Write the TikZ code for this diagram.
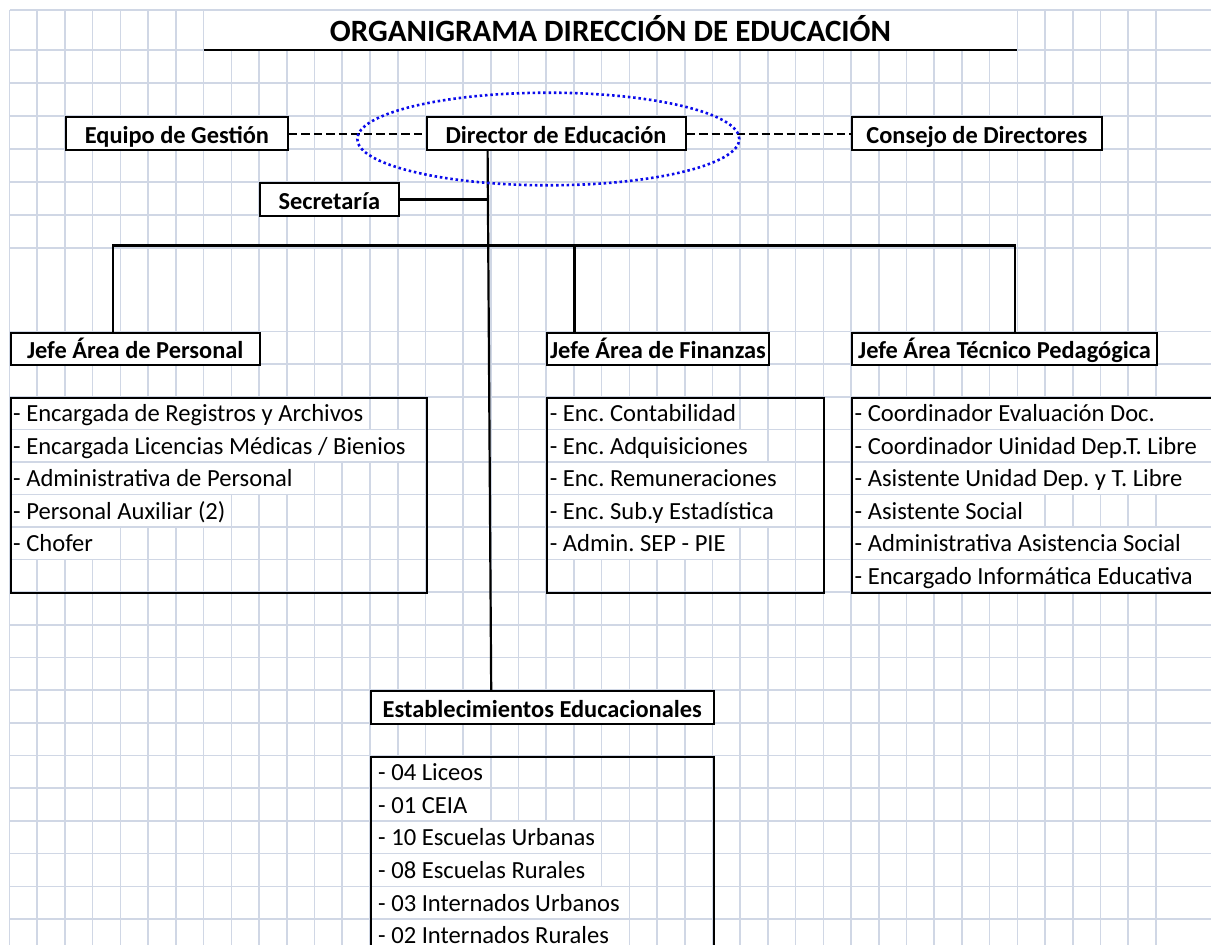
\documentclass[tikz,border=0pt]{standalone}
\usepackage{fontspec}
\setmainfont{Carlito}
\usetikzlibrary{shapes.geometric}
\definecolor{gridc}{HTML}{D0D7E5}
\definecolor{ovalblue}{RGB}{10,10,235}
\tikzset{
  gridline/.style={draw=gridc, line width=1.6pt},
  hbox/.style={draw=black, line width=2pt, fill=white, anchor=north west, minimum height=33pt, inner sep=0pt,
    font=\fontsize{24.4}{28}\selectfont\bfseries, text height=20pt, text depth=0pt},
  listbox/.style={draw=black, line width=2pt, anchor=north west, inner sep=0pt},
  item/.style={anchor=base west, inner sep=0pt, font=\fontsize{24.6}{28}\selectfont},
  conn/.style={draw=black, line width=2.2pt},
  dashconn/.style={draw=black, line width=2pt, dash pattern=on 8.5pt off 4pt},
  wfill/.style={fill=white, draw=none},
}
\frenchspacing
\begin{document}
\frenchspacing
\begin{tikzpicture}[x=1pt,y=-1pt]
\useasboundingbox (0,0) rectangle (1211,945);
\fill[white] (0,0) rectangle (1211,945);
\begin{scope}
\clip (0,0) rectangle (1211,945);
% vertical gridlines
\foreach \i in {0,...,15}{\draw[gridline] ({9.5+27.73*\i},10) -- ({9.5+27.73*\i},945);}
\foreach \j in {0,...,25}{\draw[gridline] ({463+27.72*\j},10) -- ({463+27.72*\j},945);}
% cells covered by text (vertical gridlines hidden)
\fill[wfill] (204.4,10) rectangle (1016.6,50);
% Personal
\fill[wfill] (9.5,397) rectangle (368.8,429.5);
\fill[wfill] (9.5,429.5) rectangle (425,462);
\fill[wfill] (9.5,462) rectangle (313.7,494.5);
\fill[wfill] (9.5,494.5) rectangle (230.5,527);
\fill[wfill] (9.5,527) rectangle (119.6,559.5);
% Finanzas
\fill[wfill] (546.2,397) rectangle (739.4,429.5);
\fill[wfill] (546.2,429.5) rectangle (767.1,462);
\fill[wfill] (546.2,462) rectangle (794.8,494.5);
\fill[wfill] (546.2,494.5) rectangle (794.8,527);
\fill[wfill] (546.2,527) rectangle (739.4,559.5);
% Tecnico
\fill[wfill] (851.1,397) rectangle (1211,494.5);
\fill[wfill] (851.1,494.5) rectangle (1044.3,527);
\fill[wfill] (851.1,527) rectangle (1211,592);
% Establecimientos
\fill[wfill] (370,755.5) rectangle (489.9,821);
\fill[wfill] (370,821) rectangle (600.8,886.3);
\fill[wfill] (370,886.3) rectangle (628.5,951.7);
% horizontal gridlines
\foreach \y in {10,50,83,116,149,182,215,248,331.5,364,397,429.5,462,494.5,527,559.5,592,624.7,657.4,690,722.8,755.5,788.2,821,853.6,886.3,919}
  {\draw[gridline] (9.5,\y) -- (1211,\y);}
\end{scope}

% title
\node[font=\fontsize{31}{34}\selectfont\bfseries, anchor=base, inner sep=0pt] (title) at (610.5,41.7) {ORGANIGRAMA DIRECCIÓN DE EDUCACIÓN};
\coordinate (tl) at (203.6,50);
\coordinate (tr) at (1017.4,50);
\draw[conn] (tl) -- (tr);

% connector coordinates
\coordinate (t1) at (487.6,149);
\coordinate (t2) at (491.2,690);
\coordinate (bL) at (112.6,245.5);
\coordinate (bF) at (574.4,245.5);
\coordinate (bR) at (1014.6,245.5);

% boxes
\node[hbox, minimum width=221.8pt] (eq) at (65,116) {Equipo de Gestión};
\node[hbox, minimum width=138.7pt] (sec) at (259,182) {Secretaría};
\node[hbox, minimum width=259pt] (dir) at (425.5,116) {Director de Educación};
\node[hbox, minimum width=249.5pt] (con) at (851.1,116) {Consejo de Directores};
\node[hbox, minimum width=249.5pt, minimum height=32pt] (jp) at (9.5,331.5) {Jefe Área de Personal};
\node[hbox, minimum width=221.7pt, minimum height=32pt] (jf) at (546.2,331.5) {Jefe Área de Finanzas};
\node[hbox, minimum width=305pt, minimum height=32pt] (jt) at (851.1,331.5) {Jefe Área Técnico Pedagógica};
\node[hbox, minimum width=342.5pt, minimum height=32.5pt] (est) at (370,690) {Establecimientos Educacionales};

% connectors
\draw[conn] (dir.south -| t1) -- (est.north -| t2);
\draw[conn] (sec.east) -- (sec.east -| t1);
\draw[conn] (bL |- jp.north) -- (bL) -- (bR) -- (bR |- jt.north);
\draw[conn] (bF) -- (bF |- jf.north);
\draw[dashconn] (eq.east) -- (dir.west);
\draw[dashconn] (dir.east) -- (con.west);

% list boxes
\node[listbox, minimum width=416pt, minimum height=195pt] (lp) at (9.5,397) {};
\node[listbox, minimum width=277.2pt, minimum height=195pt] (lf) at (546.2,397) {};
\node[listbox, minimum width=380pt, minimum height=195pt] (lt) at (851.1,397) {};
\node[listbox, minimum width=342.5pt, minimum height=230pt] (le) at (370,755.5) {};

% Personal items
\node[item] (p1) at (13,421.5) {- Encargada de Registros y Archivos};
\node[item] (p2) at (13,454) {- Encargada Licencias Médicas / Bienios};
\node[item] (p3) at (13,486.5) {- Administrativa de Personal};
\node[item] (p4) at (13,519) {- Personal Auxiliar (2)};
\node[item] (p5) at (13,551.5) {- Chofer};
% Finanzas items
\node[item] (f1) at (549.7,421.5) {- Enc. Contabilidad};
\node[item] (f2) at (549.7,454) {- Enc. Adquisiciones};
\node[item] (f3) at (549.7,486.5) {- Enc. Remuneraciones};
\node[item] (f4) at (549.7,519) {- Enc. Sub.y Estadística};
\node[item] (f5) at (549.7,551.5) {- Admin. SEP - PIE};
% Tecnico items
\node[item] (c1) at (854.5,421.5) {- Coordinador Evaluación Doc.};
\node[item] (c2) at (854.5,454) {- Coordinador Uinidad Dep.T. Libre};
\node[item] (c3) at (854.5,486.5) {- Asistente Unidad Dep. y T. Libre};
\node[item] (c4) at (854.5,519) {- Asistente Social};
\node[item] (c5) at (854.5,551.5) {- Administrativa Asistencia Social};
\node[item] (c6) at (854.5,584) {- Encargado Informática Educativa};
% Establecimientos items
\node[item] (e1) at (378,780.2) {- 04 Liceos};
\node[item] (e2) at (378,813) {- 01 CEIA};
\node[item] (e3) at (378,845.6) {- 10 Escuelas Urbanas};
\node[item] (e4) at (378,878.3) {- 08 Escuelas Rurales};
\node[item] (e5) at (378,911) {- 03 Internados Urbanos};
\node[item] (e6) at (378,943.5) {- 02 Internados Rurales};

% blue dotted oval
\node[ellipse, draw=ovalblue, line width=2.6pt, dash pattern=on 2.5pt off 2.8pt, minimum width=382pt, minimum height=92.6pt, inner sep=0pt] (oval) at (548.3,139) {};
\end{tikzpicture}
\end{document}
